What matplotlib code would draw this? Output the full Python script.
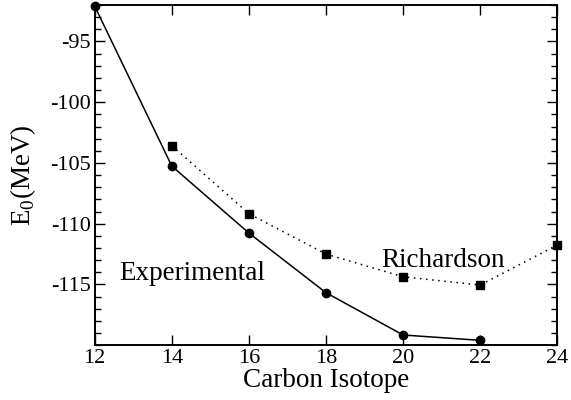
import matplotlib
matplotlib.use("Agg")
import matplotlib.pyplot as plt
from matplotlib.ticker import MultipleLocator, FixedLocator

plt.rcParams['font.family'] = ['Liberation Serif', 'DejaVu Serif']
plt.rcParams['mathtext.fontset'] = 'custom'
plt.rcParams['mathtext.rm'] = 'Liberation Serif'
plt.rcParams['axes.unicode_minus'] = False

exp_x = [12, 14, 16, 18, 20, 22]
exp_y = [-92.1, -105.26, -110.77, -115.68, -119.16, -119.6]
ric_x = [14, 16, 18, 20, 22, 24]
ric_y = [-103.57, -109.18, -112.5, -114.37, -115.05, -111.75]
y_ticks = [-115, -110, -105, -100, -95]

fig = plt.figure(figsize=(5.71, 4.0), dpi=100)
ax = fig.add_axes([0.1659, 0.137, 0.976 - 0.1659, 0.9875 - 0.137])

ax.plot(exp_x, exp_y, color='black', lw=1.1, marker='o', ms=6, clip_on=False, zorder=3)
ax.plot(ric_x, ric_y, color='black', lw=1.1, ls=(0, (1, 3)), marker='s', ms=5.5, clip_on=False, zorder=3)

ax.set_xlim(12, 24)
ax.set_ylim(-120, -92)
ax.xaxis.set_major_locator(MultipleLocator(2))
ax.yaxis.set_major_locator(FixedLocator(y_ticks))
ax.yaxis.set_minor_locator(MultipleLocator(1))
ax.tick_params(which='both', direction='in', top=True, right=True, labelsize=16, width=1.0)
ax.tick_params(which='major', length=7, pad=3)
ax.tick_params(which='minor', length=4)
for s in ax.spines.values():
    s.set_linewidth(1.4)

ax.set_xlabel('Carbon Isotope', fontsize=19.5, labelpad=0)
ax.set_ylabel(r'E$_0$(MeV)', fontsize=19.5, labelpad=8.5)

ax.text(14.54, -114.6, 'Experimental', fontsize=19.5, ha='center', va='baseline')
ax.text(21.03, -113.6, 'Richardson', fontsize=19.5, ha='center', va='baseline')

fig.savefig('out.png', dpi=100)
